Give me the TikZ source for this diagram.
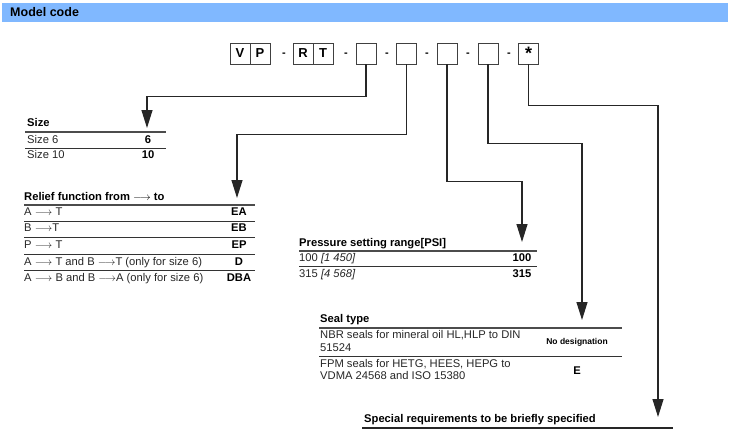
\documentclass[tikz,border=0pt]{standalone}
\usepackage{fontspec}
\setmainfont{Liberation Sans}
\usetikzlibrary{arrows.meta}

\definecolor{barblue}{HTML}{80B8FF}

\tikzset{
  codebox/.style={draw=black!75, line width=0.9pt, minimum width=20pt, minimum height=21pt,
    inner sep=0pt, font=\bfseries\fontsize{13}{13}\selectfont},
  sepmark/.style={inner sep=0pt, font=\bfseries\fontsize{11}{11}\selectfont},
  lead/.style={black!85, line width=1.2pt, -{Triangle[length=18pt,width=11pt]}},
  headtxt/.style={anchor=base west, inner sep=0pt, font=\bfseries\fontsize{11.2}{13}\selectfont},
  celltxt/.style={anchor=base west, inner sep=0pt, text=black!85, font=\fontsize{11.2}{13}\selectfont},
  codetxt/.style={anchor=base, inner sep=0pt, font=\bfseries\fontsize{11.2}{13}\selectfont},
  headline/.style={black!70, line width=1.6pt},
  rowline/.style={black!80, line width=0.9pt}
}

\begin{document}
\begin{tikzpicture}[x=1pt, y=-1pt]
  \useasboundingbox (0,0) rectangle (730,439);

  % title bar
  \fill[barblue] (2,3) rectangle (728,22);
  \node[headtxt, font=\bfseries\fontsize{12.5}{14}\selectfont] (title) at (10,16.5) {Model code};

  % code row
  \node[codebox] (v) at (240,53.5) {V};
  \node[codebox] (p) at (260,53.5) {P};
  \node[sepmark] (d1) at (284,55) {-};
  \node[codebox] (r) at (303,53.5) {R};
  \node[codebox] (t) at (323,53.5) {T};
  \node[sepmark] (d2) at (346,55) {-};
  \node[codebox] (b1) at (366,53.5) {};
  \node[sepmark] (d3) at (387,55) {-};
  \node[codebox] (b2) at (406.5,53.5) {};
  \node[sepmark] (d4) at (427,55) {-};
  \node[codebox] (b3) at (447,53.5) {};
  \node[sepmark] (d5) at (468,55) {-};
  \node[codebox] (b4) at (488,53.5) {};
  \node[sepmark] (d6) at (509,55) {-};
  \node[codebox, font=\bfseries\fontsize{18}{18}\selectfont] (star) at (528.5,53.5) {\raisebox{-0.35ex}{*}};

  % arrow targets
  \coordinate (sizein) at (147,128);
  \coordinate (reliefin) at (237,198);
  \coordinate (pressin) at (522,242);
  \coordinate (sealin) at (582,320);
  \coordinate (specin) at (658,417);

  \draw[lead] (b1.south) -- ++(0,32) -| (sizein);
  \draw[lead] (b2.south) -- ++(0,70) -| (reliefin);
  \draw[lead] (b3.south) -- ++(0,117) -| (pressin);
  \draw[lead] (b4.south) -- ++(0,79) -| (sealin);
  \draw[lead] (star.south) -- ++(0,41) -| (specin);

  % size
  \node[headtxt] (size) at (27,126) {Size};
  \draw[headline] (25,132) -- (166,132);
  \node[celltxt] (size6) at (27,143) {Size 6};
  \node[codetxt] (c6) at (148,143) {6};
  \draw[rowline] (25,148) -- (166,148);
  \node[celltxt] (size10) at (27,158) {Size 10};
  \node[codetxt] (c10) at (148,158) {10};

  % relief function
  \node[headtxt] (relief) at (24,200) {Relief function from $\longrightarrow$ to};
  \draw[headline] (24,205) -- (255,205);
  \node[celltxt] (ea) at (24,215) {A $\longrightarrow$ T};
  \node[codetxt] (cea) at (239,215) {EA};
  \draw[rowline] (24,221) -- (255,221);
  \node[celltxt] (eb) at (24,231) {B $\longrightarrow$T};
  \node[codetxt] (ceb) at (239,231) {EB};
  \draw[rowline] (24,237) -- (255,237);
  \node[celltxt] (ep) at (24,248) {P $\longrightarrow$ T};
  \node[codetxt] (cep) at (239,248) {EP};
  \draw[rowline] (24,254) -- (255,254);
  \node[celltxt] (d) at (24,265) {A $\longrightarrow$ T and B $\longrightarrow$T (only for size 6)};
  \node[codetxt] (cd) at (239,265) {D};
  \draw[rowline] (24,270) -- (255,270);
  \node[celltxt] (dba) at (24,281) {A $\longrightarrow$ B and B $\longrightarrow$A (only for size 6)};
  \node[codetxt] (cdba) at (239,281) {DBA};

  % pressure
  \node[headtxt] (press) at (299,246) {Pressure setting range[PSI]};
  \draw[headline] (299,251) -- (537,251);
  \node[celltxt] (p100) at (299,261) {100 \textit{[1 450]}};
  \node[codetxt] (c100) at (522,261) {100};
  \draw[rowline] (299,266) -- (537,266);
  \node[celltxt] (p315) at (299,277) {315 \textit{[4 568]}};
  \node[codetxt] (c315) at (522,277) {315};

  % seal type
  \node[headtxt] (seal) at (320,322) {Seal type};
  \draw[headline] (319,328) -- (622,328);
  \node[celltxt] (nbr) at (320,338) {NBR seals for mineral oil HL,HLP to DIN};
  \node[celltxt] (nbr2) at (320,351) {51524};
  \node[codetxt, font=\bfseries\fontsize{8.5}{10}\selectfont] (cnbr) at (577,344) {No designation};
  \draw[rowline] (319,356) -- (622,356);
  \node[celltxt] (fpm) at (320,367) {FPM seals for HETG, HEES, HEPG to};
  \node[celltxt] (fpm2) at (320,379) {VDMA 24568 and ISO 15380};
  \node[codetxt] (cfpm) at (577,374) {E};

  % special requirements
  \node[headtxt] (spec) at (364,422) {Special requirements to be briefly specified};
  \draw[headline, black!85] (362,428) -- (673,428);
\end{tikzpicture}
\end{document}
